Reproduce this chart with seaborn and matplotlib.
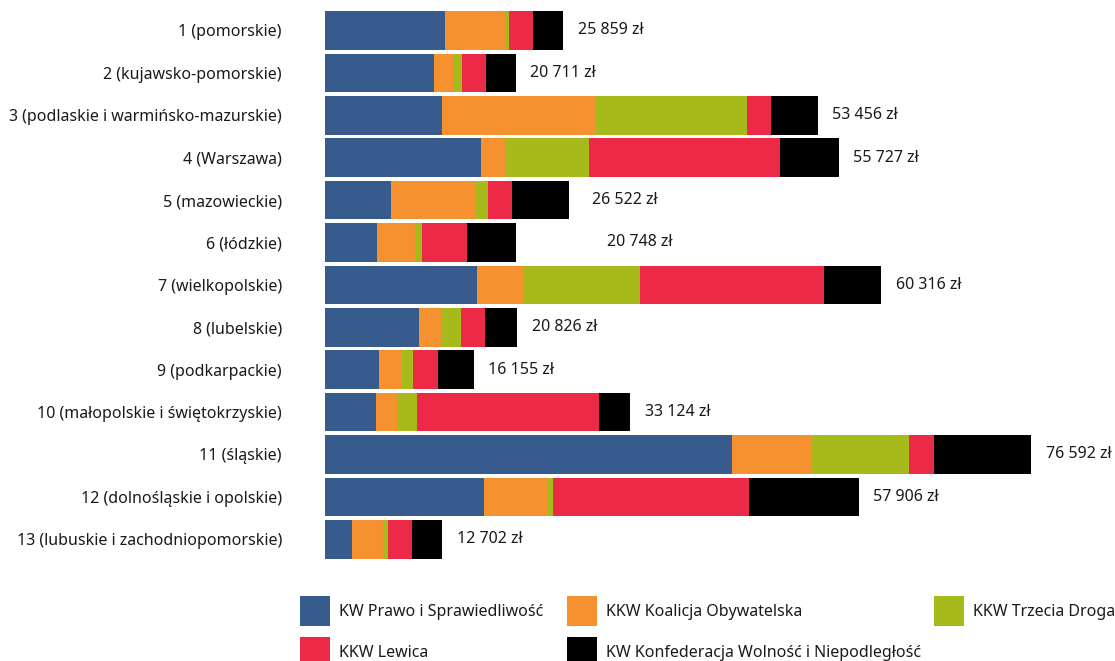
import matplotlib
matplotlib.use("Agg")
import matplotlib.pyplot as plt
from matplotlib.patches import Patch
import numpy as np
import pandas as pd
import seaborn as sns

# Districts and spending per electoral committee (zł)
districts = [
    "1 (pomorskie)",
    "2 (kujawsko-pomorskie)",
    "3 (podlaskie i warmińsko-mazurskie)",
    "4 (Warszawa)",
    "5 (mazowieckie)",
    "6 (łódzkie)",
    "7 (wielkopolskie)",
    "8 (lubelskie)",
    "9 (podkarpackie)",
    "10 (małopolskie i świętokrzyskie)",
    "11 (śląskie)",
    "12 (dolnośląskie i opolskie)",
    "13 (lubuskie i zachodniopomorskie)",
]
committees = [
    "KW Prawo i Sprawiedliwość",
    "KKW Koalicja Obywatelska",
    "KKW Trzecia Droga",
    "KKW Lewica",
    "KW Konfederacja Wolność i Niepodległość",
]
pis = [13000, 11810, 12690, 16910, 7150, 5640, 16490, 10200, 5860, 5520, 44150, 17240, 2930]
ko = [6500, 2130, 16660, 2600, 9170, 4120, 4990, 2390, 2460, 2380, 8570, 6830, 3360]
td = [430, 900, 16400, 9100, 1330, 760, 12690, 2170, 1230, 2060, 10630, 650, 540]
lewica = [2600, 2600, 2600, 20700, 2600, 4880, 19960, 2600, 2710, 19810, 2710, 21250, 2600]
konf = [3329, 3271, 5106, 6417, 6272, 5348, 6186, 3466, 3895, 3354, 10532, 11936, 3272]
totals = [25859, 20711, 53456, 55727, 26522, 20748, 60316, 20826, 16155, 33124, 76592, 57906, 12702]

colors = ["#375B8D", "#F6912F", "#A6BA1B", "#EC2A48", "#000000"]

df = pd.DataFrame(
    {"district": districts, committees[0]: pis, committees[1]: ko,
     committees[2]: td, committees[3]: lewica, committees[4]: konf}
)
cum = df[committees].cumsum(axis=1)

sns.set_theme(style="white")
plt.rcParams["font.family"] = ["Noto Sans", "DejaVu Sans"]

FS = 11.5
fig = plt.figure(figsize=(11.15, 6.61), dpi=100)
W, H = 1115, 661
ax = fig.add_axes([325 / W, 1 - 560.5 / H, 706 / W, 551.3 / H])

# Stack by overlaying cumulative bars, widest first
for name, color in reversed(list(zip(committees, colors))):
    sns.barplot(data=cum.assign(district=districts), x=name, y="district",
                orient="h", color=color, saturation=1, width=0.91,
                linewidth=0, ax=ax)

ax.set_xlim(0, 76592)
ax.set_ylim(12.5, -0.5)
ax.set_xlabel("")
ax.set_ylabel("")
ax.set_xticks([])
for s in ax.spines.values():
    s.set_visible(False)
ax.tick_params(axis="y", length=0, pad=31, labelsize=FS, labelcolor="#1a1a1a")

# Total amount next to each bar
extra_pad = {4: 6, 5: 55}
for i, tot in enumerate(totals):
    label = f"{tot:,}".replace(",", " ") + " zł"
    ax.annotate(label, xy=(tot, i), xytext=(10.5 + extra_pad.get(i, 0), 0),
                textcoords="offset points", ha="left", va="center",
                fontsize=FS, color="#1a1a1a", annotation_clip=False)

# Legend laid out as three columns
handles = [Patch(facecolor=c, edgecolor="none", label=n) for n, c in zip(committees, colors)]
columns = [([0, 3], 300), ([1, 4], 567), ([2], 934)]
for idx, x0 in columns:
    leg = fig.legend([handles[k] for k in idx], [committees[k] for k in idx],
                     ncol=1, loc="upper left", bbox_to_anchor=(x0 / W, 1 - 596 / H),
                     frameon=False, fontsize=FS, handlelength=1.87, handleheight=2.51,
                     handletextpad=0.6, labelspacing=0.69,
                     borderpad=0, borderaxespad=0, labelcolor="#1a1a1a")

fig.savefig("out.png", dpi=100)
